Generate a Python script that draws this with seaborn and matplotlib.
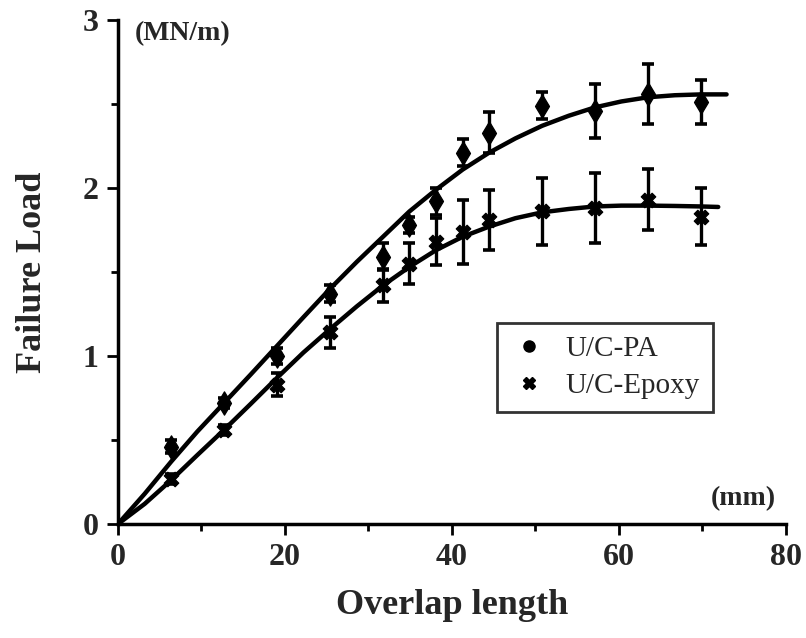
import numpy as np
import seaborn as sns
import matplotlib.pyplot as plt
from matplotlib.lines import Line2D
from matplotlib.ticker import MultipleLocator

# Measured points (overlap length in mm, failure load in MN/m)
overlap = [6.35, 12.7, 19.05, 25.4, 31.75, 34.9, 38.1, 41.3, 44.45, 50.8, 57.15, 63.5, 69.85]
pa_load = [0.46, 0.72, 1.00, 1.37, 1.59, 1.78, 1.92, 2.21, 2.33, 2.49, 2.46, 2.56, 2.51]
pa_err = [0.04, 0.03, 0.05, 0.05, 0.08, 0.05, 0.08, 0.08, 0.12, 0.08, 0.16, 0.18, 0.13]
epoxy_load = [0.27, 0.56, 0.83, 1.14, 1.42, 1.55, 1.68, 1.74, 1.81, 1.86, 1.88, 1.93, 1.83]
epoxy_err = [0.03, 0.03, 0.07, 0.09, 0.10, 0.12, 0.14, 0.19, 0.18, 0.20, 0.21, 0.18, 0.17]

# Fitted curves
pa_fit_x = [0, 3.2, 6.35, 9.5, 12.7, 15.9, 19.05, 22.2, 25.4, 28.6, 31.75, 34.9, 38.1, 41.3, 44.45,
            47.6, 50.8, 54.0, 57.15, 60.3, 63.5, 66.7, 69.85, 72.9]
pa_fit_y = [0, 0.18, 0.37, 0.55, 0.72, 0.89, 1.06, 1.23, 1.40, 1.56, 1.71, 1.86, 1.99, 2.11, 2.21,
            2.295, 2.37, 2.43, 2.48, 2.515, 2.54, 2.552, 2.557, 2.557]
epoxy_fit_x = [0, 3.2, 6.35, 9.5, 12.7, 15.9, 19.05, 22.2, 25.4, 28.6, 31.75, 34.9, 38.1, 41.3, 44.45,
               47.6, 50.8, 54.0, 57.15, 60.3, 63.5, 66.7, 69.85, 71.9]
epoxy_fit_y = [0, 0.12, 0.26, 0.41, 0.56, 0.715, 0.87, 1.02, 1.16, 1.295, 1.42, 1.53, 1.63, 1.71, 1.77,
               1.82, 1.855, 1.875, 1.89, 1.895, 1.895, 1.893, 1.89, 1.887]

sns.set_style("ticks")
plt.rcParams['font.family'] = ['Liberation Serif', 'DejaVu Serif']
plt.rcParams['font.weight'] = 'bold'

fig = plt.figure(figsize=(8.06, 6.38), dpi=100)
ax = fig.add_axes([0.1464, 0.1787, 0.8286, 0.79])

# fitted curves
sns.lineplot(x=pa_fit_x, y=pa_fit_y, ax=ax, color='black', linewidth=3.2, sort=False)
sns.lineplot(x=epoxy_fit_x, y=epoxy_fit_y, ax=ax, color='black', linewidth=3.2, sort=False)

# error bars
ax.errorbar(overlap, pa_load, yerr=pa_err, fmt='none', ecolor='black', elinewidth=2.4,
            capsize=4.5, capthick=2.6)
ax.errorbar(overlap, epoxy_load, yerr=epoxy_err, fmt='none', ecolor='black', elinewidth=2.4,
            capsize=4.5, capthick=2.6)

# markers
sns.scatterplot(x=overlap, y=pa_load, ax=ax, marker='d', s=140, color='black', edgecolor='black', zorder=5)
sns.scatterplot(x=overlap, y=epoxy_load, ax=ax, marker='X', s=110, color='black', edgecolor='black', zorder=5)

ax.set_xlim(0, 80)
ax.set_ylim(0, 3)
ax.xaxis.set_major_locator(MultipleLocator(20))
ax.xaxis.set_minor_locator(MultipleLocator(10))
ax.yaxis.set_major_locator(MultipleLocator(1))
ax.yaxis.set_minor_locator(MultipleLocator(0.5))
ax.tick_params(which='major', length=8, width=2, color='black', labelsize=23, pad=6)
ax.tick_params(which='minor', length=5, width=2, color='black')
for lbl in ax.get_xticklabels() + ax.get_yticklabels():
    lbl.set_fontweight('bold')

sns.despine(ax=ax)
for side in ['left', 'bottom']:
    ax.spines[side].set_linewidth(2.5)
    ax.spines[side].set_color('black')

ax.set_xlabel('Overlap length', fontsize=26, fontweight='bold', labelpad=12)
ax.set_ylabel('Failure Load', fontsize=26, fontweight='bold', labelpad=24)
ax.text(0.025, 0.998, '(MN/m)', transform=ax.transAxes, fontsize=20, fontweight='bold',
        ha='left', va='top')
ax.text(0.985, 0.05, '(mm)', transform=ax.transAxes, fontsize=20, fontweight='bold',
        ha='right', va='center')

handles = [Line2D([], [], marker='o', color='black', linestyle='none', markersize=8),
           Line2D([], [], marker='X', color='black', linestyle='none', markersize=8)]
leg = ax.legend(handles, ['U/C-PA', 'U/C-Epoxy'], loc='upper left',
                bbox_to_anchor=(0.567, 0.399), frameon=True, fancybox=False,
                prop={'family': 'Liberation Serif', 'weight': 'normal', 'size': 21},
                handletextpad=0.6, borderpad=0.45, labelspacing=0.35, handlelength=1.3,
                borderaxespad=0)
leg.get_frame().set_edgecolor('black')
leg.get_frame().set_linewidth(2)

fig.savefig('out.png', dpi=100)
